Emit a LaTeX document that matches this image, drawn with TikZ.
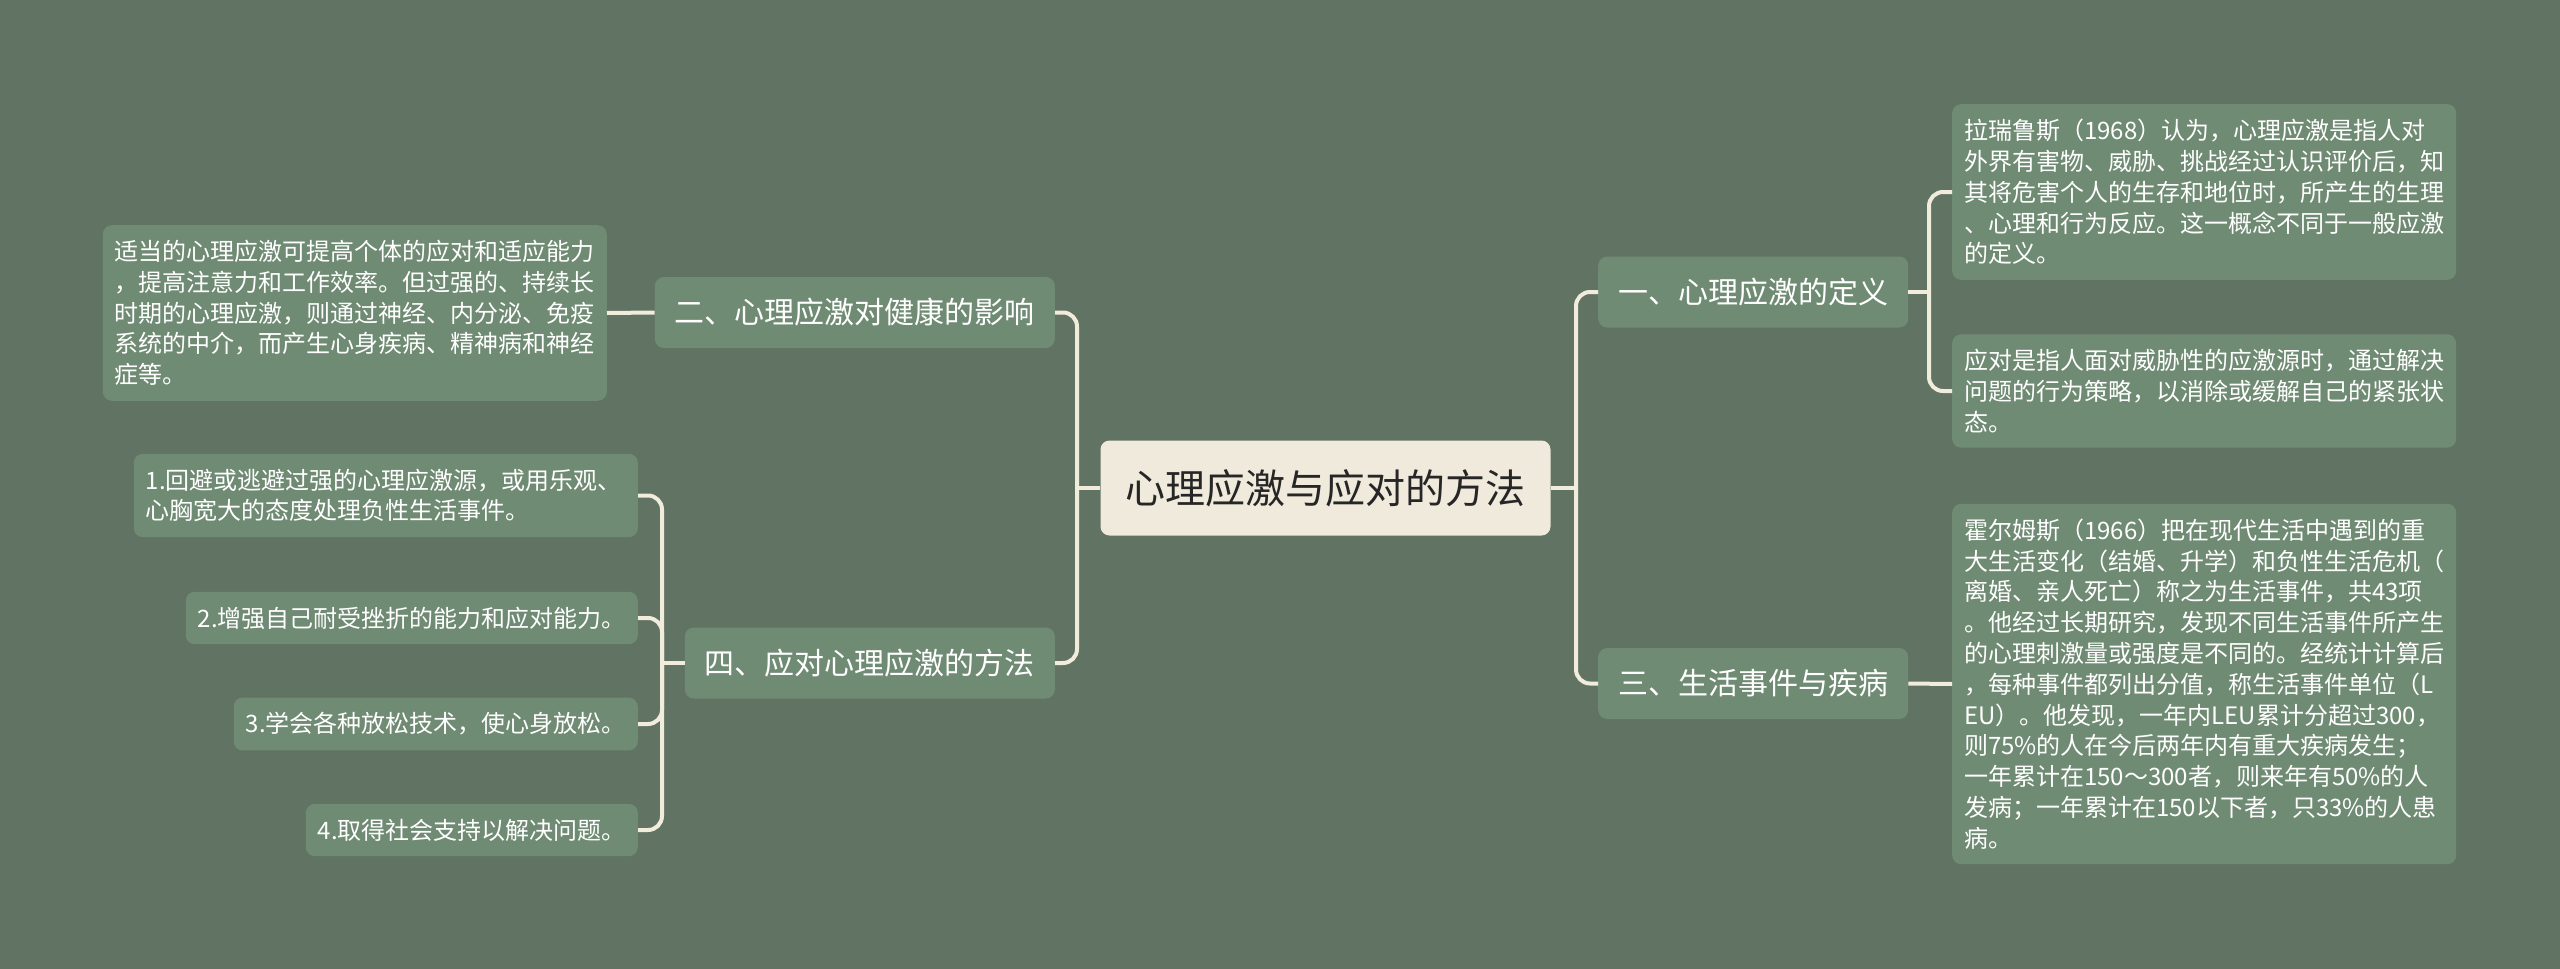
\documentclass[tikz,border=0pt]{standalone}
\usepackage{fontspec}
\setmainfont{Noto Sans CJK SC}
\usepackage{tikz}
\definecolor{bgc}{RGB}{97,115,99}
\definecolor{boxc}{RGB}{112,139,116}
\definecolor{linec}{RGB}{241,236,220}
\definecolor{rootc}{RGB}{239,234,219}
\definecolor{roottxt}{RGB}{38,38,38}

\begin{document}
\begin{tikzpicture}
[every node/.style={inner sep=0pt},
 rootbox/.style={rounded corners=9pt, fill=rootc, text=roottxt, font=\fontsize{40}{48}\selectfont, minimum height=95pt, inner xsep=25pt},
 catbox/.style={rounded corners=9pt, fill=boxc, text=white, font=\fontsize{30}{36}\selectfont, minimum height=71pt, inner xsep=20pt},
 leafbox/.style={rounded corners=9pt, fill=boxc, text=white, font=\fontsize{24}{30.8}\selectfont, align=left, inner xsep=12pt, inner ysep=15pt},
 widebox/.style={leafbox, text width=480pt},
 link/.style={draw=linec, line width=4pt, rounded corners=14pt}]
\fill [bgc] (0pt, 0pt) rectangle (2560pt, -969pt);
\useasboundingbox (0pt, 0pt) rectangle (2560pt, -969pt);
\node (0) [rootbox] at (1325.5pt, -488pt) {心理应激与应对的方法};
\node (1) [catbox, anchor=west] at (1598pt, -292pt) {一、心理应激的定义};
\node (3) [catbox, anchor=west] at (1598pt, -683.5pt) {三、生活事件与疾病};
\node (2) [catbox, anchor=east] at (1055pt, -312.5pt) {二、心理应激对健康的影响};
\node (4) [catbox, anchor=east] at (1055pt, -663pt) {四、应对心理应激的方法};
\node (11) [widebox, anchor=west] at (1952pt, -192pt) {拉瑞鲁斯（1968）认为，心理应激是指人对\\外界有害物、威胁、挑战经过认识评价后，知\\其将危害个人的生存和地位时，所产生的生理\\、心理和行为反应。这一概念不同于一般应激\\的定义。};
\node (12) [widebox, anchor=west] at (1952pt, -391pt) {应对是指人面对威胁性的应激源时，通过解决\\问题的行为策略，以消除或缓解自己的紧张状\\态。};
\node (31) [widebox, anchor=west] at (1952pt, -684pt) {霍尔姆斯（1966）把在现代生活中遇到的重\\大生活变化（结婚、升学）和负性生活危机（\\离婚、亲人死亡）称之为生活事件，共43项\\。他经过长期研究，发现不同生活事件所产生\\的心理刺激量或强度是不同的。经统计计算后\\，每种事件都列出分值，称生活事件单位（L\\EU）。他发现，一年内LEU累计分超过300，\\则75\%的人在今后两年内有重大疾病发生；\\一年累计在150～300者，则来年有50\%的人\\发病；一年累计在150以下者，只33\%的人患\\病。};
\node (21) [widebox, anchor=east] at (607pt, -313pt) {适当的心理应激可提高个体的应对和适应能力\\，提高注意力和工作效率。但过强的、持续长\\时期的心理应激，则通过神经、内分泌、免疫\\系统的中介，而产生心身疾病、精神病和神经\\症等。};
\node (41) [widebox, anchor=east] at (638pt, -495.5pt) {1.回避或逃避过强的心理应激源，或用乐观、\\心胸宽大的态度处理负性生活事件。};
\node (42) [leafbox, anchor=east] at (638pt, -618pt) {2.增强自己耐受挫折的能力和应对能力。};
\node (43) [leafbox, anchor=east] at (638pt, -724pt) {3.学会各种放松技术，使心身放松。};
\node (44) [leafbox, anchor=east] at (638pt, -830pt) {4.取得社会支持以解决问题。};
\coordinate (0r) at (1576pt, -488pt);
\coordinate (0l) at (1077pt, -488pt);
\coordinate (1r) at (1929pt, -292pt);
\coordinate (4l) at (662pt, -663pt);
\draw [link] (0.east) -- (0r);
\draw [link] (0r) |- (1.west);
\draw [link] (0r) |- (3.west);
\draw [link] (0.west) -- (0l);
\draw [link] (0l) |- (2.east);
\draw [link] (0l) |- (4.east);
\draw [link] (1.east) -- (1r);
\draw [link] (1r) |- (11.west);
\draw [link] (1r) |- (12.west);
\draw [link] (3.east) -- (31.west);
\draw [link] (2.west) -- (21.east);
\draw [link] (4.west) -- (4l);
\draw [link] (4l) |- (41.east);
\draw [link] (4l) |- (42.east);
\draw [link] (4l) |- (43.east);
\draw [link] (4l) |- (44.east);
\end{tikzpicture}
\end{document}
